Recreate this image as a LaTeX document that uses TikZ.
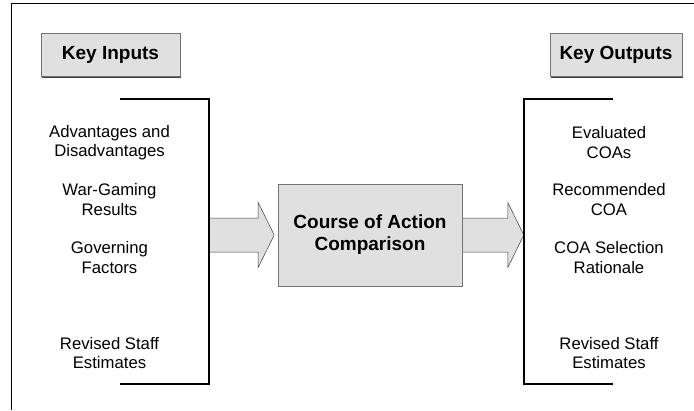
\documentclass[tikz,border=0pt]{standalone}
\usepackage{fontspec}
\setmainfont{Liberation Sans}
\usetikzlibrary{calc,shadows}
\definecolor{boxgray}{rgb}{0.88,0.88,0.88}

\begin{document}
\begin{tikzpicture}[x=1pt,y=-1pt]
  %%Create the styles for the boxes, brackets and arrows
  \tikzset{key box/.style={draw=black!55,fill=boxgray,drop shadow={shadow xshift=1pt,shadow yshift=-1pt,fill=black!75,opacity=1},font=\bfseries\fontsize{19}{22}\selectfont,minimum height=43pt,inner sep=0pt}}
  \tikzset{main box/.style={key box,minimum width=184pt,minimum height=102pt,align=center}}
  \tikzset{item/.style={align=center,font=\fontsize{16.7}{19.5}\selectfont,inner sep=0pt}}
  \tikzset{column/.style={minimum width=89pt,minimum height=285pt,inner sep=0pt}}
  \tikzset{bracket/.style={draw,line width=1.6pt}}
  \tikzset{fat arrow/.style={draw=black!75,fill=boxgray,line width=0.5pt,line join=miter}}
  \useasboundingbox (0,0) rectangle (694,410);
  %%Outer frame, only its top and left edges show
  \draw[line width=0.8pt] (11,410) -- (11,3) -- (694,3);
  %%Columns, titles and the middle box
  \node[column] (ncin) at (164.5,241.5) {};
  \node[column] (ncout) at (568.5,241.5) {};
  \node[key box,minimum width=139pt] (nkin) at (110.5,55) {Key Inputs};
  \node[key box,minimum width=132pt] (nkout) at (616,55) {Key Outputs};
  %%Block arrows go under the box and the brackets
  \path (ncin.east) ++(0,-6.5) coordinate (a0) ++(65,0) coordinate (a1);
  \path (ncout.west) ++(0,-6.5) coordinate (b1) ++(-62,0) coordinate (b0);
  \foreach \from/\to in {a0/a1,b0/b1}{
    \path[fat arrow] ($(\from)+(0,-17)$) -- ($(\to)+(-16,-17)$) -- ($(\to)+(-16,-32.5)$) -- (\to)
      -- ($(\to)+(-16,32.5)$) -- ($(\to)+(-16,17)$) -- ($(\from)+(0,17)$) -- cycle;
  }
  \node[main box] (ncoa) at (370,235) {Course of Action\\Comparison};
  %%Brackets round the two lists
  \draw[bracket] (ncin.north west) -- (ncin.north east) -- (ncin.south east) -- (ncin.south west);
  \draw[bracket] (ncout.north east) -- (ncout.north west) -- (ncout.south west) -- (ncout.south east);
  %%Place the list items with the foreach construct
  \foreach \i/\y/\txt in {1/142.5/{Advantages and\\Disadvantages},2/199.5/{War-Gaming\\Results},3/257.5/{Governing\\Factors},4/353/{Revised Staff\\Estimates}}{
    \node[item] (nin\i) at (109.5,\y) {\txt};
  }
  \foreach \i/\y/\txt in {1/142.5/{Evaluated\\COAs},2/199.5/{Recommended\\COA},3/257.5/{COA Selection\\Rationale},4/353/{Revised Staff\\Estimates}}{
    \node[item] (nout\i) at (609,\y) {\txt};
  }
\end{tikzpicture}
\end{document}
